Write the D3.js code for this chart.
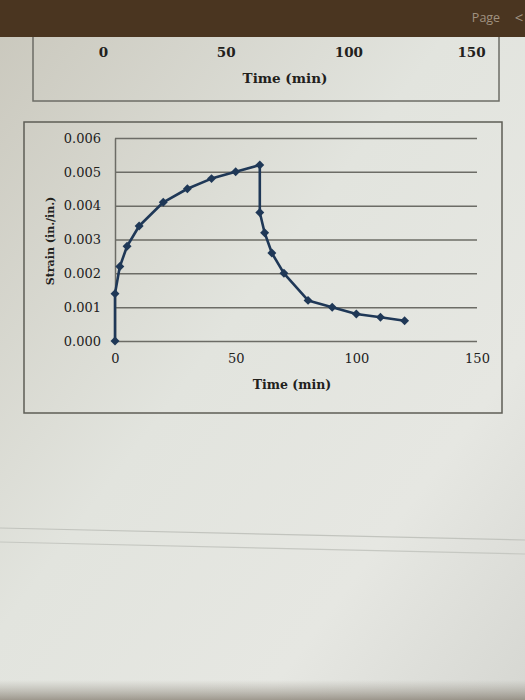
<!DOCTYPE html>
<html>
<head>
<meta charset="utf-8">
<script src="https://cdn.jsdelivr.net/npm/d3@7"></script>
<style>
  body { margin: 0; background: #dcded8; }
  svg { display: block; }
</style>
</head>
<body>
<div id="chart"></div>
<script>
// values
var time   = [0, 0, 2, 5, 10, 20, 30, 40, 50, 60, 60, 62, 65, 70, 80, 90, 100, 110, 120];
var strain = [0, 0.0014, 0.0022, 0.0028, 0.0034, 0.0041, 0.0045, 0.0048, 0.0050, 0.0052,
              0.0038, 0.0032, 0.0026, 0.0020, 0.0012, 0.0010, 0.0008, 0.0007, 0.0006];
var x_ticks = [0, 50, 100, 150];
var y_ticks = [0, 0.001, 0.002, 0.003, 0.004, 0.005, 0.006];

var serif = "'DejaVu Serif', 'Liberation Serif', serif";
var ink = "#22211c";
var grid = "#6c6c66";

var svg = d3.select("#chart").append("svg")
  .attr("width", 525)
  .attr("height", 700);

// paper background with soft lighting
var defs = svg.append("defs");
var bg = defs.append("linearGradient")
  .attr("id", "paper")
  .attr("x1", 0).attr("y1", 0).attr("x2", 1).attr("y2", 1);
bg.append("stop").attr("offset", "0%").attr("stop-color", "#c9c7bc");
bg.append("stop").attr("offset", "45%").attr("stop-color", "#e2e4de");
bg.append("stop").attr("offset", "75%").attr("stop-color", "#e6e7e2");
bg.append("stop").attr("offset", "100%").attr("stop-color", "#d6d7d2");

var shade = defs.append("linearGradient")
  .attr("id", "shade")
  .attr("x1", 0).attr("y1", 0).attr("x2", 0).attr("y2", 1);
shade.append("stop").attr("offset", "0%").attr("stop-color", "#8a8478").attr("stop-opacity", 0);
shade.append("stop").attr("offset", "100%").attr("stop-color", "#6e6456").attr("stop-opacity", 0.6);

svg.append("rect")
  .attr("width", 525).attr("height", 700)
  .attr("fill", "url(#paper)");

svg.append("rect")
  .attr("y", 680).attr("width", 525).attr("height", 20)
  .attr("fill", "url(#shade)");

// faint fold band across the lower page
svg.append("line")
  .attr("x1", 0).attr("y1", 528).attr("x2", 525).attr("y2", 540)
  .attr("stroke", "#c2c4be").attr("stroke-width", 1.2);
svg.append("line")
  .attr("x1", 0).attr("y1", 542).attr("x2", 525).attr("y2", 554)
  .attr("stroke", "#c6c8c2").attr("stroke-width", 1.2);

// ---- remnant of the chart above (only its bottom is visible) ----
var prev_x = d3.scaleLinear().domain([0, 150]).range([103, 471]);

svg.append("rect")
  .attr("x", 33).attr("y", 20)
  .attr("width", 466).attr("height", 81)
  .attr("fill", "none")
  .attr("stroke", grid).attr("stroke-width", 1.5);

var prev_axis = svg.append("g")
  .attr("transform", "translate(0,40)")
  .call(d3.axisBottom(prev_x).tickValues(x_ticks).tickSize(0).tickPadding(7));
prev_axis.select(".domain").remove();
prev_axis.selectAll("text")
  .attr("font-family", serif).attr("font-size", 13.5)
  .attr("font-weight", "bold").attr("fill", ink);

svg.append("text")
  .attr("x", 285).attr("y", 83)
  .attr("text-anchor", "middle")
  .attr("font-family", serif).attr("font-size", 13.5)
  .attr("font-weight", "bold").attr("fill", ink)
  .text("Time (min)");

// viewer toolbar at the top
svg.append("rect")
  .attr("width", 525).attr("height", 37)
  .attr("fill", "#4a3520");
svg.append("text")
  .attr("x", 486).attr("y", 22)
  .attr("text-anchor", "middle")
  .attr("font-family", "'Open Sans', sans-serif").attr("font-size", 12.5)
  .attr("fill", "#a09280")
  .text("Page");
svg.append("text")
  .attr("x", 519).attr("y", 23)
  .attr("text-anchor", "middle")
  .attr("font-family", "'Open Sans', sans-serif").attr("font-size", 15)
  .attr("fill", "#a09280")
  .text("<");

// ---- main chart ----
svg.append("rect")
  .attr("x", 24).attr("y", 122)
  .attr("width", 478).attr("height", 291)
  .attr("fill", "none")
  .attr("stroke", "#5e5d55").attr("stroke-width", 1.5);

var scalex = d3.scaleLinear().domain([0, 150]).range([115, 477]);
var scaley = d3.scaleLinear().domain([0, 0.006]).range([341, 138]);

// horizontal gridlines
svg.append("g")
  .attr("transform", "translate(115,0)")
  .call(d3.axisRight(scaley).tickValues(y_ticks).tickSize(362).tickFormat(""))
  .call(function (g) {
    g.select(".domain").remove();
    g.selectAll("line").attr("stroke", grid).attr("stroke-width", 1.5);
  });

// y axis
var y_axis = svg.append("g")
  .attr("transform", "translate(115,0)")
  .call(d3.axisLeft(scaley).tickValues(y_ticks).tickSize(0).tickPadding(14)
    .tickFormat(d3.format(".3f")));
y_axis.select(".domain").attr("stroke", grid).attr("stroke-width", 1.5);
y_axis.selectAll("text")
  .attr("font-family", serif).attr("font-size", 13)
  .attr("fill", ink);

// x axis labels
var x_axis = svg.append("g")
  .attr("transform", "translate(0,341)")
  .call(d3.axisBottom(scalex).tickValues(x_ticks).tickSize(0).tickPadding(13));
x_axis.select(".domain").remove();
x_axis.selectAll("text")
  .attr("font-family", serif).attr("font-size", 13)
  .attr("fill", ink);

svg.append("text")
  .attr("x", 292).attr("y", 389)
  .attr("text-anchor", "middle")
  .attr("font-family", serif).attr("font-size", 12.5)
  .attr("font-weight", "bold").attr("fill", ink)
  .text("Time (min)");

svg.append("text")
  .attr("transform", "translate(54,241) rotate(-90)")
  .attr("text-anchor", "middle")
  .attr("font-family", serif).attr("font-size", 11)
  .attr("font-weight", "bold").attr("fill", ink)
  .text("Strain (in./in.)");

// series
var points = time.map(function (t, i) { return [t, strain[i]]; });

svg.append("path")
  .datum(points)
  .attr("fill", "none")
  .attr("stroke", "#1f3857")
  .attr("stroke-width", 2.6)
  .attr("stroke-linejoin", "round")
  .attr("d", d3.line()
    .x(function (d) { return scalex(d[0]); })
    .y(function (d) { return scaley(d[1]); }));

// Excel-style diamonds: a square turned 45 degrees
svg.selectAll("path.marker")
  .data(points)
  .enter()
  .append("path")
  .attr("class", "marker")
  .attr("d", d3.symbol().type(d3.symbolSquare).size(40))
  .attr("transform", function (d) {
    return "translate(" + scalex(d[0]) + "," + scaley(d[1]) + ") rotate(45)";
  })
  .attr("fill", "#1f3857");
</script>
</body>
</html>
